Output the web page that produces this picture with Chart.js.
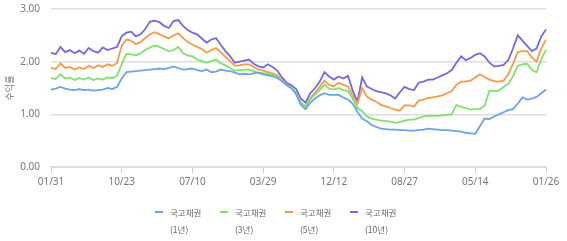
<!DOCTYPE html>
<html>
<head>
<meta charset="utf-8">
<script src="https://cdn.jsdelivr.net/npm/chart.js@4.4.1/dist/chart.umd.min.js"></script>
<style>
  html, body { margin: 0; padding: 0; background: #fff; }
  #wrap { position: relative; width: 567px; height: 241px; }
  #c { position: absolute; left: 0; top: 0; }
  .lg { position: absolute; top: 204px; font-family: "Noto Sans CJK KR", "Noto Sans", sans-serif; font-size: 8.5px; color: #666; line-height: 17px; }
  .lg .sw { position: absolute; left: 0; top: 7px; width: 8px; height: 2px; }
  .lg .tx { position: absolute; left: 15px; top: 0; white-space: nowrap; }
</style>
</head>
<body>
<div id="wrap">
  <canvas id="c" width="567" height="241"></canvas>
  <div id="legend"></div>
</div>
<script>
// Tick labels shown on the x axis (every 15th trading-day sample)
const tickLabels = ["01/31", "10/23", "07/10", "03/29", "12/12", "08/27", "05/14", "01/26"];
const tickEvery = 15;

// Series names
const seriesNames = [["국고채권", "(1년)"], ["국고채권", "(3년)"], ["국고채권", "(5년)"], ["국고채권", "(10년)"]];

// Yields (%)
const y1 = [1.47,1.49,1.52,1.49,1.47,1.46,1.48,1.46,1.47,1.45,1.46,1.47,1.50,1.48,1.52,
  1.68,1.80,1.81,1.82,1.83,1.84,1.85,1.86,1.87,1.86,1.88,1.91,1.88,1.85,1.86,
  1.87,1.84,1.82,1.85,1.80,1.81,1.85,1.83,1.82,1.79,1.76,1.77,1.76,1.78,1.79,
  1.76,1.74,1.72,1.69,1.63,1.55,1.50,1.38,1.18,1.10,1.22,1.30,1.36,1.40,1.37,
  1.37,1.37,1.32,1.28,1.20,1.05,0.92,0.87,0.80,0.76,0.73,0.72,0.71,0.71,0.70,
  0.70,0.69,0.69,0.70,0.71,0.73,0.72,0.71,0.70,0.70,0.69,0.68,0.67,0.65,0.64,
  0.63,0.78,0.92,0.91,0.96,1.00,1.04,1.08,1.10,1.20,1.32,1.28,1.30,1.33,1.40,1.47];
const y3 = [1.69,1.67,1.76,1.68,1.70,1.65,1.69,1.66,1.70,1.65,1.68,1.66,1.70,1.69,1.73,
  1.95,2.15,2.14,2.12,2.16,2.22,2.27,2.31,2.28,2.24,2.20,2.22,2.28,2.16,2.12,
  2.10,2.04,2.01,1.98,2.01,2.04,1.97,1.93,1.88,1.83,1.84,1.85,1.85,1.82,1.79,
  1.78,1.77,1.75,1.72,1.63,1.55,1.49,1.40,1.22,1.15,1.28,1.38,1.46,1.56,1.49,
  1.47,1.50,1.46,1.44,1.30,1.12,1.06,0.96,0.92,0.90,0.88,0.87,0.86,0.84,0.85,
  0.88,0.90,0.90,0.93,0.96,0.97,0.97,0.97,0.98,0.99,1.00,1.18,1.14,1.12,1.09,
  1.10,1.10,1.17,1.45,1.44,1.45,1.52,1.58,1.72,1.92,1.95,1.96,1.84,1.80,2.05,2.23];
const y5 = [1.88,1.86,1.97,1.88,1.90,1.85,1.89,1.86,1.92,1.88,1.93,1.90,1.95,1.92,1.97,
  2.30,2.42,2.40,2.33,2.37,2.45,2.52,2.56,2.52,2.48,2.44,2.50,2.54,2.45,2.38,
  2.32,2.28,2.24,2.17,2.22,2.26,2.18,2.09,2.01,1.92,1.93,1.95,1.95,1.90,1.85,
  1.83,1.80,1.78,1.74,1.65,1.56,1.50,1.40,1.22,1.15,1.30,1.42,1.52,1.64,1.56,
  1.53,1.60,1.56,1.53,1.36,1.20,1.50,1.34,1.28,1.24,1.18,1.15,1.12,1.09,1.07,
  1.17,1.17,1.15,1.26,1.28,1.31,1.32,1.34,1.36,1.40,1.44,1.56,1.62,1.62,1.64,
  1.70,1.76,1.71,1.66,1.63,1.62,1.64,1.76,1.96,2.18,2.20,2.20,2.08,2.00,2.25,2.42];
const y10 = [2.17,2.14,2.28,2.18,2.22,2.16,2.21,2.15,2.26,2.20,2.17,2.27,2.22,2.25,2.28,
  2.48,2.55,2.57,2.48,2.52,2.62,2.76,2.78,2.75,2.68,2.64,2.77,2.79,2.68,2.60,
  2.55,2.52,2.44,2.36,2.42,2.45,2.32,2.20,2.10,1.98,2.00,2.02,2.04,1.96,1.91,
  1.89,1.95,1.90,1.83,1.70,1.60,1.55,1.48,1.30,1.22,1.40,1.50,1.62,1.80,1.72,
  1.66,1.72,1.68,1.73,1.45,1.24,1.70,1.53,1.48,1.44,1.42,1.40,1.36,1.30,1.42,
  1.52,1.48,1.46,1.60,1.62,1.66,1.66,1.70,1.74,1.78,1.84,1.98,2.10,2.03,2.07,
  2.13,2.16,2.10,1.98,1.91,1.92,1.94,2.03,2.25,2.50,2.40,2.30,2.20,2.25,2.48,2.61];

const colors = ["#6ba5e7", "#7fe26d", "#f79a4b", "#7468e6"];
const seriesData = [y1, y3, y5, y10];

// category labels built from tick labels
const categories = y1.map((_, i) => (i % tickEvery === 0 ? tickLabels[i / tickEvery] : ""));

const datasets = seriesData.map((d, k) => ({
  label: seriesNames[k].join(" "),
  data: d,
  borderColor: colors[k],
  backgroundColor: colors[k],
  borderWidth: 1.8,
  pointRadius: 0,
  tension: 0,
  fill: false
}));

new Chart(document.getElementById("c"), {
  type: "line",
  data: { labels: categories, datasets },
  options: {
    responsive: false,
    animation: false,
    events: [],
    layout: { padding: { top: 9, right: 21, bottom: 0, left: 0 } },
    plugins: { legend: { display: false }, tooltip: { enabled: false } },
    scales: {
      x: {
        type: "category",
        offset: false,
        afterFit: (s) => { s.height = 74; },
        grid: { drawOnChartArea: false, drawTicks: true, tickLength: 6, color: "#d0d0d0" },
        border: { color: "#dcdcdc", width: 2 },
        ticks: {
          autoSkip: false, maxRotation: 0, minRotation: 0, padding: 3,
          color: "#777", font: { family: "Noto Sans", size: 10 },
          callback: function (v, i) { return i % tickEvery === 0 ? tickLabels[i / tickEvery] : null; }
        }
      },
      y: {
        min: 0, max: 3,
        afterFit: (s) => { s.width = 51; },
        grid: { color: "#dedede", drawTicks: true, tickLength: 11, tickColor: "rgba(0,0,0,0)", lineWidth: 1.5 },
        border: { display: false },
        title: { display: true, text: "수익률", color: "#777", font: { family: "Noto Sans CJK KR", size: 9 }, padding: { top: 4, bottom: 0 } },
        ticks: {
          stepSize: 1, padding: 0, color: "#777", font: { family: "Noto Sans", size: 10 },
          callback: (v) => Number(v).toFixed(2)
        }
      }
    }
  }
});

// HTML legend
const legendEl = document.getElementById("legend");
const starts = [155, 220, 285, 350];
seriesNames.forEach((nm, k) => {
  const it = document.createElement("div");
  it.className = "lg";
  it.style.left = starts[k] + "px";
  it.innerHTML = '<span class="sw" style="background:' + colors[k] + '"></span>' +
    '<span class="tx">' + nm[0] + '<br>' + nm[1] + '</span>';
  legendEl.appendChild(it);
});
</script>
</body>
</html>
